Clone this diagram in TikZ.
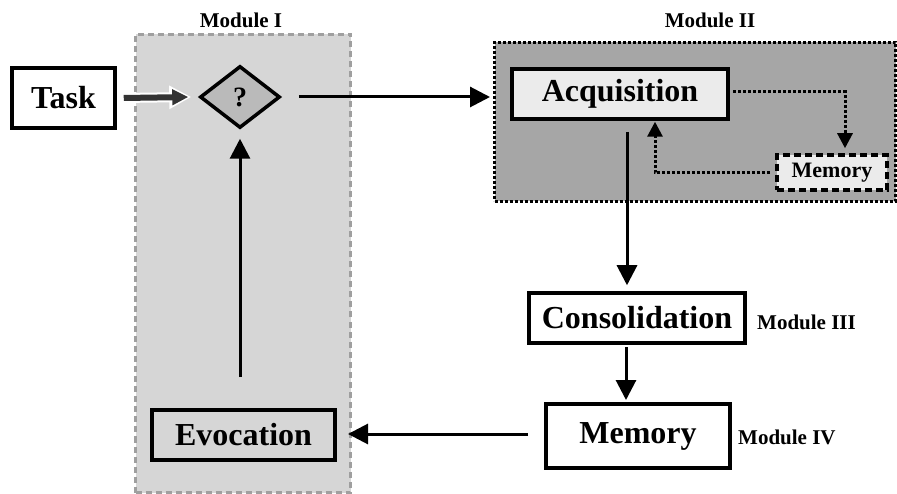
\documentclass[tikz,border=0pt]{standalone}
\usepackage{fontspec}
\setmainfont{Liberation Serif}
\usetikzlibrary{arrows.meta,shapes.geometric,calc}
\begin{document}
\begin{tikzpicture}[x=1pt,y=-1pt,
  box/.style={draw=black,line width=3.5pt,inner sep=0pt,font=\bfseries\fontsize{32}{36}\selectfont},
  modlabel/.style={font=\bfseries\fontsize{21}{24}\selectfont,inner sep=0pt},
  arr/.style={line width=3pt,-{Triangle[length=20pt,width=20pt]}},
  dotarr/.style={line width=3pt,dotted,-{Triangle[length=15pt,width=15pt]}}
]
\useasboundingbox (0,0) rectangle (897,494);
\fill[white] (0,0) rectangle (897,494);
% Module I
\node[draw=gray!75,fill=black!16,line width=3pt,minimum width=215pt,minimum height=458pt,inner sep=0pt,anchor=north west,dash pattern=on 6pt off 4pt] (m1) at (134,33) {};
\node[modlabel] (m1l) at (241,20) {Module I};
% Module II
\node[draw=black,fill=black!35,line width=3pt,dash pattern=on 3pt off 2pt,minimum width=401pt,minimum height=159pt,inner sep=0pt,anchor=north west] (m2) at (493,41) {};
\node[modlabel] (m2l) at (710,20) {Module II};
% nodes
\node[box,fill=white,minimum width=103pt,minimum height=60pt] (task) at (63.5,98) {Task};
\node[diamond,draw=black,line width=3.5pt,fill=black!27,minimum width=80pt,minimum height=62pt,inner sep=0pt,aspect=1.29,font=\bfseries\fontsize{28}{30}\selectfont] (q) at (240,97) {?};
\node[box,fill=black!16,minimum width=183pt,minimum height=50pt] (evo) at (243.5,435) {Evocation};
\node[box,fill=black!8,minimum width=216pt,minimum height=50pt] (acq) at (620,94) {Acquisition};
\node[box,fill=black!8,dash pattern=on 7pt off 4pt,minimum width=110pt,minimum height=35pt,font=\bfseries\fontsize{22}{24}\selectfont] (smem) at (832,172.5) {Memory};
\node[box,fill=white,minimum width=216pt,minimum height=50pt] (cons) at (637,318) {Consolidation};
\node[box,fill=white,minimum width=184pt,minimum height=64pt] (mem) at (638,436) {Memory};
\node[modlabel,anchor=west] (m3l) at (757,322) {Module III};
\node[modlabel,anchor=west] (m4l) at (738,437) {Module IV};
% connectors
\coordinate (t1) at ([xshift=6pt]task.east);
\coordinate (t2) at ([xshift=-7pt]q.west);
\draw[white,line width=10pt,-{Triangle[length=22pt,width=22pt]}] (t1) -- (t2);
\draw[black!80,line width=6pt,-{Triangle[length=16pt,width=15pt]},shorten >=3pt] ([xshift=1pt]t1) -- (t2);
\draw[arr] ([xshift=17pt]q.east) -- ([xshift=-3pt]q.east -| m2.west);
\coordinate (e1) at (240,377);
\draw[arr] (e1) -- ([yshift=-9pt]q.south);
\coordinate (a1) at (627,132);
\draw[arr] (a1) -- ([yshift=6pt]a1 |- cons.north);
\coordinate (c1) at (626,347);
\coordinate (c2) at (626,400);
\draw[arr] (c1) -- (c2);
\coordinate (r1) at (528,434);
\coordinate (r2) at (348,434);
\draw[arr] (r1) -- (r2);
\coordinate (d1) at (733,92);
\coordinate (d1b) at (845,92);
\draw[dotarr] (d1) -- (d1b) -- ([yshift=5pt]d1b |- smem.north);
\coordinate (d2) at (770,173);
\coordinate (d2b) at (655,173);
\draw[dotarr] (d2) -- (d2b) -- ([yshift=-1pt]d2b |- acq.south);
\end{tikzpicture}
\end{document}
